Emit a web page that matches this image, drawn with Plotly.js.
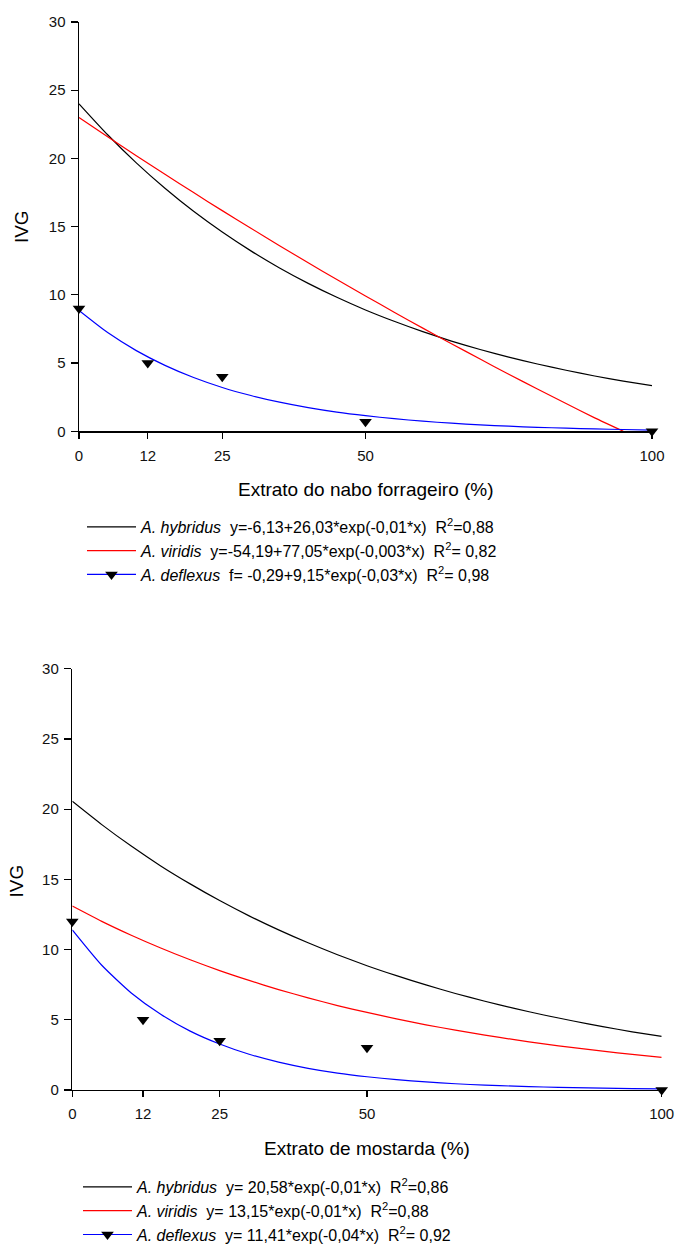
<!DOCTYPE html>
<html>
<head>
<meta charset="utf-8">
<script src="https://cdn.plot.ly/plotly-3.0.1.min.js"></script>
<style>html,body{margin:0;padding:0;background:#fff;}#chart{width:676px;height:1252px;}</style>
</head>
<body>
<div id="chart"></div>
<script>
// ---- data ----
const xTicks = [0, 12, 25, 50, 100];
const yTicks = [0, 5, 10, 15, 20, 25, 30];
const xObs = [0, 12, 25, 50, 100];
const xCurve = [0, 5, 10, 15, 20, 25, 30, 35, 40, 45, 50, 55, 60, 65, 70, 75, 80, 85, 90, 95, 100];
const xViridisTop = [0, 5, 10, 15, 20, 25, 30, 35, 40, 45, 50, 55, 60, 65, 70, 75, 80, 85, 90, 95];

// Top panel: Extrato do nabo forrageiro
const nabHybridus = [24.00, 21.73, 19.67, 17.81, 16.12, 14.60, 13.22, 11.97, 10.84, 9.82, 8.89, 8.06, 7.30, 6.61, 5.99, 5.43, 4.93, 4.47, 4.05, 3.68, 3.34];
const nabViridis = [23.00, 21.59, 20.20, 18.83, 17.49, 16.17, 14.88, 13.60, 12.35, 11.12, 9.92, 8.73, 7.56, 6.42, 5.29, 4.18, 3.10, 2.03, 0.98, 0.00];
const nabDeflexusFit = [8.85, 7.23, 5.91, 4.83, 3.94, 3.21, 2.62, 2.13, 1.73, 1.40, 1.14, 0.92, 0.74, 0.59, 0.47, 0.37, 0.29, 0.23, 0.17, 0.13, 0.09];
const nabDeflexusObs = [9.0, 5.0, 4.0, 0.7, 0.0];

// Bottom panel: Extrato de mostarda
const mosHybridus = [20.56, 18.90, 17.37, 15.96, 14.68, 13.49, 12.40, 11.40, 10.48, 9.63, 8.85, 8.14, 7.48, 6.87, 6.32, 5.81, 5.34, 4.91, 4.51, 4.14, 3.81];
const mosViridis = [13.10, 12.01, 11.02, 10.11, 9.27, 8.50, 7.80, 7.15, 6.56, 6.01, 5.52, 5.06, 4.64, 4.26, 3.90, 3.58, 3.28, 3.01, 2.76, 2.53, 2.32];
const mosDeflexusFit = [11.40, 8.88, 6.91, 5.39, 4.19, 3.27, 2.54, 1.98, 1.54, 1.20, 0.94, 0.73, 0.57, 0.44, 0.34, 0.27, 0.21, 0.16, 0.13, 0.10, 0.08];
const mosDeflexusObs = [12.0, 5.0, 3.5, 3.0, 0.0];

const S = '\u00a0\u00a0';
const labelsTop = [
  '<i>A. hybridus</i>' + S + 'y=-6,13+26,03*exp(-0,01*x)' + S + 'R<sup>2</sup>=0,88',
  '<i>A. viridis</i>' + S + 'y=-54,19+77,05*exp(-0,003*x)' + S + 'R<sup>2</sup>= 0,82',
  '<i>A. deflexus</i>' + S + 'f= -0,29+9,15*exp(-0,03*x)' + S + 'R<sup>2</sup>= 0,98'
];
const labelsBottom = [
  '<i>A. hybridus</i>' + S + 'y= 20,58*exp(-0,01*x)' + S + 'R<sup>2</sup>=0,86',
  '<i>A. viridis</i>' + S + 'y= 13,15*exp(-0,01*x)' + S + 'R<sup>2</sup>=0,88',
  '<i>A. deflexus</i>' + S + 'y= 11,41*exp(-0,04*x)' + S + 'R<sup>2</sup>= 0,92'
];

// ---- styles ----
const FONT = 'Liberation Sans, Arial, sans-serif';
const lw = 1.2;
const sp = {shape: 'spline', smoothing: 0.6};
const mk = {symbol: 'triangle-down', size: 11, color: '#000'};

function curve(x, y, color, name, xa, ya, lg) {
  return {x: x, y: y, mode: 'lines', name: name, xaxis: xa, yaxis: ya, legend: lg,
    line: Object.assign({color: color, width: lw}, sp), hoverinfo: 'skip', showlegend: false, cliponaxis: true};
}
function legendEntry(color, name, xa, ya, lg, withMarker) {
  return {x: [null], y: [null], mode: withMarker ? 'lines+markers' : 'lines', name: name,
    xaxis: xa, yaxis: ya, legend: lg, line: {color: color, width: lw}, marker: mk, showlegend: true};
}
function obs(x, y, xa, ya, lg) {
  return {x: x, y: y, mode: 'markers', xaxis: xa, yaxis: ya, legend: lg, marker: mk,
    showlegend: false, cliponaxis: false, hoverinfo: 'skip'};
}

const traces = [
  curve(xCurve, nabHybridus, '#000000', labelsTop[0], 'x', 'y', 'legend'),
  curve(xViridisTop, nabViridis, '#ff0000', labelsTop[1], 'x', 'y', 'legend'),
  curve(xCurve, nabDeflexusFit, '#0000ff', labelsTop[2], 'x', 'y', 'legend'),
  obs(xObs, nabDeflexusObs, 'x', 'y', 'legend'),
  legendEntry('#000000', labelsTop[0], 'x', 'y', 'legend', false),
  legendEntry('#ff0000', labelsTop[1], 'x', 'y', 'legend', false),
  legendEntry('#0000ff', labelsTop[2], 'x', 'y', 'legend', true),

  curve(xCurve, mosHybridus, '#000000', labelsBottom[0], 'x2', 'y2', 'legend2'),
  curve(xCurve, mosViridis, '#ff0000', labelsBottom[1], 'x2', 'y2', 'legend2'),
  curve(xCurve, mosDeflexusFit, '#0000ff', labelsBottom[2], 'x2', 'y2', 'legend2'),
  obs(xObs, mosDeflexusObs, 'x2', 'y2', 'legend2'),
  legendEntry('#000000', labelsBottom[0], 'x2', 'y2', 'legend2', false),
  legendEntry('#ff0000', labelsBottom[1], 'x2', 'y2', 'legend2', false),
  legendEntry('#0000ff', labelsBottom[2], 'x2', 'y2', 'legend2', true)
];

const W = 676, H = 1252;
const px = v => v / W;
const py = v => 1 - v / H;

function xAxis(domain, anchor) {
  return {domain: domain, anchor: anchor, range: [0, 100], tickmode: 'array', tickvals: xTicks,
    ticktext: xTicks.map(String), showgrid: false, zeroline: false, showline: true, linecolor: '#000',
    linewidth: 1.5, ticks: 'outside', ticklen: 6, tickwidth: 1.2, tickcolor: '#000',
    tickfont: {family: FONT, size: 15, color: '#111'}, ticklabelstandoff: 4, automargin: false, fixedrange: true};
}
function yAxis(domain, anchor) {
  return {domain: domain, anchor: anchor, range: [0, 30], tickmode: 'array', tickvals: yTicks,
    ticktext: yTicks.map(String), showgrid: false, zeroline: false, showline: true, linecolor: '#000',
    linewidth: 1.5, ticks: 'outside', ticklen: 7, tickwidth: 1.2, tickcolor: '#000',
    tickfont: {family: FONT, size: 15, color: '#111'}, ticklabelstandoff: 2, automargin: false, fixedrange: true};
}

const titleFont = {family: FONT, size: 19, color: '#000'};
const legendBase = {xanchor: 'left', yanchor: 'top', bgcolor: 'rgba(0,0,0,0)', borderwidth: 0,
  font: {family: FONT, size: 16, color: '#000'}, itemwidth: 49, traceorder: 'normal', itemclick: false, itemdoubleclick: false};

const layout = {
  width: W, height: H, margin: {l: 0, r: 0, t: 0, b: 0},
  paper_bgcolor: '#fff', plot_bgcolor: '#fff', showlegend: true,
  xaxis: xAxis([px(79), px(652)], 'y'),
  yaxis: yAxis([py(433), py(22)], 'x'),
  xaxis2: xAxis([px(72.3), px(661.7)], 'y2'),
  yaxis2: yAxis([py(1094.3), py(671.5)], 'x2'),
  legend: Object.assign({x: px(82), y: py(512)}, legendBase),
  legend2: Object.assign({x: px(78), y: py(1175)}, legendBase),
  annotations: [
    {text: 'Extrato do nabo forrageiro (%)', xref: 'paper', yref: 'paper', x: px(366), y: py(491),
      xanchor: 'center', yanchor: 'middle', showarrow: false, font: titleFont},
    {text: 'IVG', xref: 'paper', yref: 'paper', x: px(21), y: py(228), textangle: -90,
      xanchor: 'center', yanchor: 'middle', showarrow: false, font: titleFont},
    {text: 'Extrato de mostarda (%)', xref: 'paper', yref: 'paper', x: px(367), y: py(1153),
      xanchor: 'center', yanchor: 'middle', showarrow: false, font: titleFont},
    {text: 'IVG', xref: 'paper', yref: 'paper', x: px(16), y: py(885), textangle: -90,
      xanchor: 'center', yanchor: 'middle', showarrow: false, font: titleFont}
  ]
};

Plotly.newPlot('chart', traces, layout, {displayModeBar: false, staticPlot: true});
</script>
</body>
</html>
